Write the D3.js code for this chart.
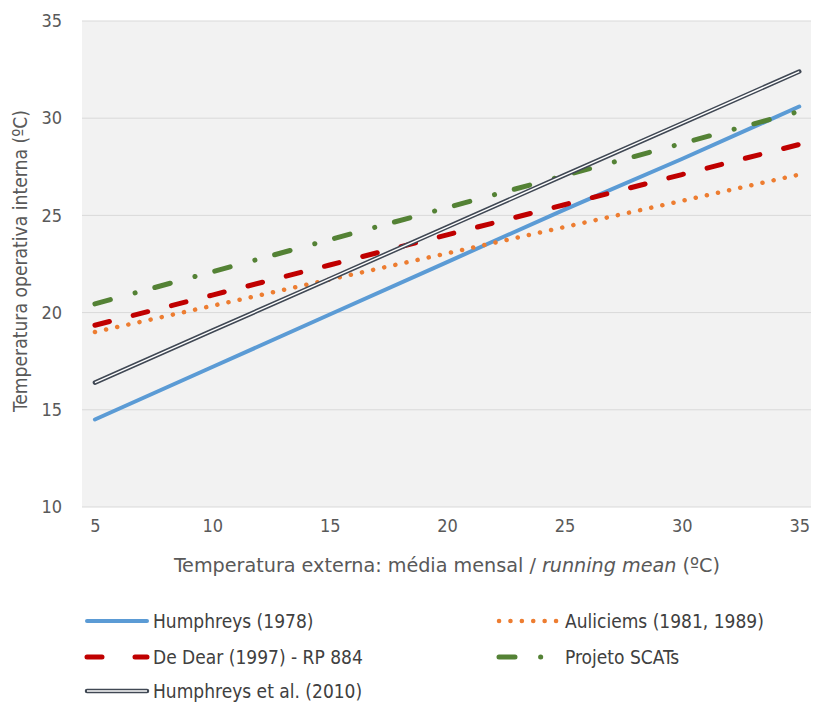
<!DOCTYPE html>
<html>
<head>
<meta charset="utf-8">
<script src="https://cdn.jsdelivr.net/npm/d3@7"></script>
<style>
  body { margin: 0; background: #fff; }
  svg text { font-family: "Liberation Sans Narrow", "DejaVu Sans Condensed", "Open Sans", sans-serif; }
</style>
</head>
<body>
<div id="chart"></div>
<script>
// x values (external temperature) and comfort temperature per model
const xValues = [5, 10, 15, 20, 25, 30, 35];
const humphreys1978 = [14.5, 17.2, 19.9, 22.6, 25.3, 27.9, 30.6];
const auliciems = [19.0, 20.35, 21.7, 23.05, 24.4, 25.75, 27.1];
const deDear = [19.35, 20.9, 22.45, 24.0, 25.55, 27.1, 28.65];
const scats = [20.45, 22.1, 23.75, 25.4, 27.05, 28.7, 30.35];
const humphreys2010 = [16.4, 19.07, 21.73, 24.4, 27.07, 29.73, 32.4];

const xTicks = [5, 10, 15, 20, 25, 30, 35];
const yTicks = [10, 15, 20, 25, 30, 35];

const seriesNames = ["Humphreys (1978)", "Auliciems (1981, 1989)", "De Dear (1997) - RP 884",
  "Projeto SCATs", "Humphreys et al. (2010)"];

let margin = {top: 21, right: 7, bottom: 195, left: 82},
  width = 818 - margin.left - margin.right,
  height = 702 - margin.top - margin.bottom;

let svg = d3.select("#chart")
  .append("svg")
  .attr("width", 818)
  .attr("height", 702);

let g = svg.append("g")
  .attr("transform", "translate(" + margin.left + "," + margin.top + ")");

let x = d3.scaleLinear()
  .domain([4.45, 35.5])
  .range([0, width]);

let y = d3.scaleLinear()
  .domain([10, 35])
  .range([height, 0]);

// plot background
g.append("rect")
  .attr("width", width)
  .attr("height", height)
  .attr("fill", "#f2f2f2");

// gridlines
g.selectAll(".grid")
  .data(yTicks)
  .enter()
  .append("line")
  .attr("x1", 0)
  .attr("x2", width)
  .attr("y1", d => y(d))
  .attr("y2", d => y(d))
  .attr("stroke", "#d9d9d9")
  .attr("stroke-width", 1);

// axes (labels only)
let yAxis = g.append("g")
  .call(d3.axisLeft(y).tickValues(yTicks).tickSize(0).tickPadding(20));
yAxis.select(".domain").remove();
yAxis.selectAll("text")
  .attr("fill", "#595959")
  .style("font-size", "18px");

let xAxis = g.append("g")
  .attr("transform", "translate(0," + height + ")")
  .call(d3.axisBottom(x).tickValues(xTicks).tickSize(0).tickPadding(12));
xAxis.select(".domain").remove();
xAxis.selectAll("text")
  .attr("fill", "#595959")
  .style("font-size", "18px");

// axis titles
let xTitle = svg.append("text")
  .attr("x", 447)
  .attr("y", 572)
  .attr("text-anchor", "middle")
  .attr("fill", "#595959")
  .attr("textLength", 546)
  .attr("lengthAdjust", "spacingAndGlyphs")
  .style("font-size", "20px");
xTitle.append("tspan").text("Temperatura externa: média mensal / ");
xTitle.append("tspan").style("font-style", "italic").text("running mean");
xTitle.append("tspan").text(" (ºC)");

svg.append("text")
  .attr("transform", "translate(27,261) rotate(-90)")
  .attr("text-anchor", "middle")
  .attr("fill", "#595959")
  .attr("textLength", 302)
  .attr("lengthAdjust", "spacingAndGlyphs")
  .style("font-size", "19.5px")
  .text("Temperatura operativa interna (ºC)");

function lineData(vals) {
  return xValues.map((d, i) => ({x: d, y: vals[i]}));
}

let line = d3.line()
  .x(d => x(d.x))
  .y(d => y(d.y));

// Humphreys (1978)
g.append("path")
  .datum(lineData(humphreys1978))
  .attr("fill", "none")
  .attr("stroke", "#5b9bd5")
  .attr("stroke-width", 4)
  .attr("stroke-linecap", "round")
  .attr("d", line);

// Auliciems
g.append("path")
  .datum(lineData(auliciems))
  .attr("fill", "none")
  .attr("stroke", "#ed7d31")
  .attr("stroke-width", 4.5)
  .attr("stroke-linecap", "round")
  .attr("stroke-dasharray", "0.1,11.3")
  .attr("d", line);

// De Dear
g.append("path")
  .datum(lineData(deDear))
  .attr("fill", "none")
  .attr("stroke", "#c00000")
  .attr("stroke-width", 5)
  .attr("stroke-linecap", "round")
  .attr("stroke-dasharray", "15,24.5")
  .attr("d", line);

// Projeto SCATs
g.append("path")
  .datum(lineData(scats))
  .attr("fill", "none")
  .attr("stroke", "#548235")
  .attr("stroke-width", 5)
  .attr("stroke-linecap", "round")
  .attr("stroke-dasharray", "16,25.6,0.1,20.4")
  .attr("d", line);

// Humphreys et al. (2010) - double line
g.append("path")
  .datum(lineData(humphreys2010))
  .attr("fill", "none")
  .attr("stroke", "#404854")
  .attr("stroke-width", 4.5)
  .attr("stroke-linecap", "round")
  .attr("d", line);
g.append("path")
  .datum(lineData(humphreys2010))
  .attr("fill", "none")
  .attr("stroke", "#ffffff")
  .attr("stroke-width", 1.4)
  .attr("d", line);

// legend
let legendPos = [
  {x: 85, y: 621}, {x: 497, y: 621},
  {x: 85, y: 657}, {x: 497, y: 657},
  {x: 85, y: 691}
];
let legendStyles = [
  {color: "#5b9bd5", w: 4, dash: null},
  {color: "#ed7d31", w: 4.5, dash: "0.1,11.3"},
  {color: "#c00000", w: 5, dash: "15,33"},
  {color: "#548235", w: 5, dash: "16,25.6,0.1,20.4"},
  {color: "#404854", w: 4.5, dash: null, double: true}
];

let legend = svg.append("g");
seriesNames.forEach((name, i) => {
  let p = legendPos[i], s = legendStyles[i];
  let x0 = p.x + 2, x1 = p.x + 62;
  legend.append("line")
    .attr("x1", x0).attr("x2", x1)
    .attr("y1", p.y).attr("y2", p.y)
    .attr("stroke", s.color)
    .attr("stroke-width", s.w)
    .attr("stroke-linecap", "round")
    .attr("stroke-dasharray", s.dash);
  if (s.double) {
    legend.append("line")
      .attr("x1", x0).attr("x2", x1)
      .attr("y1", p.y).attr("y2", p.y)
      .attr("stroke", "#fff")
      .attr("stroke-width", 1.4);
  }
  legend.append("text")
    .attr("x", p.x + 68)
    .attr("y", p.y)
    .attr("dy", "0.35em")
    .attr("fill", "#404040")
    .style("font-size", "19px")
    .text(name);
});
</script>
</body>
</html>
